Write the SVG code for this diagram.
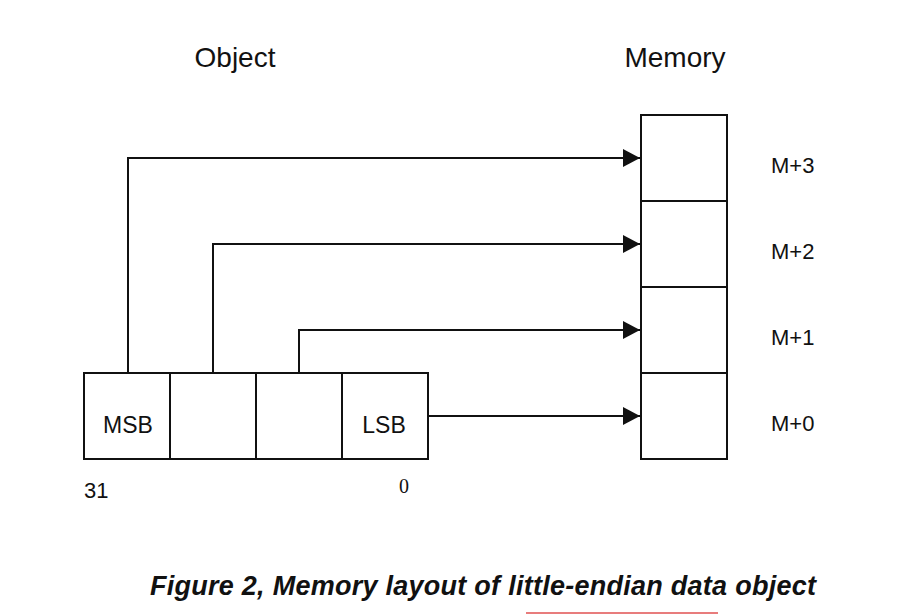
<svg xmlns="http://www.w3.org/2000/svg" width="898" height="614" viewBox="0 0 898 614">
<style>
.box{fill:#fff;stroke:#111;stroke-width:2}
.con{fill:none;stroke:#111;stroke-width:2}
.t{font-family:"Liberation Sans",Arial,sans-serif;fill:#111}
.m{font-size:22px}
</style>
<defs>
<marker id="ah" markerWidth="17" markerHeight="18" refX="17" refY="9" orient="auto" markerUnits="userSpaceOnUse">
<path d="M0,0 L17,9 L0,18 Z" fill="#111"/>
</marker>
</defs>
<rect width="898" height="614" fill="#fff"/>
<text class="t" x="235" y="67" font-size="28" text-anchor="middle">Object</text>
<text class="t" x="675" y="67" font-size="28" text-anchor="middle">Memory</text>
<g id="connectors">
<path class="con" d="M128,373 V158 H640" marker-end="url(#ah)"/>
<path class="con" d="M213,373 V244 H640" marker-end="url(#ah)"/>
<path class="con" d="M299,373 V330 H640" marker-end="url(#ah)"/>
<path class="con" d="M428,416 H640" marker-end="url(#ah)"/>
</g>
<g id="obj-msb"><rect class="box" x="84" y="373" width="86" height="86"/><text class="t" x="128" y="433" font-size="23" text-anchor="middle">MSB</text></g>
<g id="obj-b2"><rect class="box" x="170" y="373" width="86" height="86"/></g>
<g id="obj-b1"><rect class="box" x="256" y="373" width="86" height="86"/></g>
<g id="obj-lsb"><rect class="box" x="342" y="373" width="86" height="86"/><text class="t" x="384" y="433" font-size="23" text-anchor="middle">LSB</text></g>
<g id="mem3"><rect class="box" x="641" y="115" width="86" height="86"/></g>
<g id="mem2"><rect class="box" x="641" y="201" width="86" height="86"/></g>
<g id="mem1"><rect class="box" x="641" y="287" width="86" height="86"/></g>
<g id="mem0"><rect class="box" x="641" y="373" width="86" height="86"/></g>
<text class="t m" x="771" y="173">M+3</text>
<text class="t m" x="771" y="259">M+2</text>
<text class="t m" x="771" y="345">M+1</text>
<text class="t m" x="771" y="431">M+0</text>
<text class="t" x="84" y="498" font-size="22">31</text>
<text x="399" y="493" font-size="20" font-family="'Liberation Serif','Times New Roman',serif" fill="#111">0</text>
<text class="t" x="150" y="595" font-size="27" font-weight="bold" font-style="italic" textLength="666" lengthAdjust="spacing">Figure 2, Memory layout of little-endian data object</text>
<line x1="526" y1="613" x2="718" y2="613" stroke="#e05050" stroke-width="1.5"/>
</svg>
